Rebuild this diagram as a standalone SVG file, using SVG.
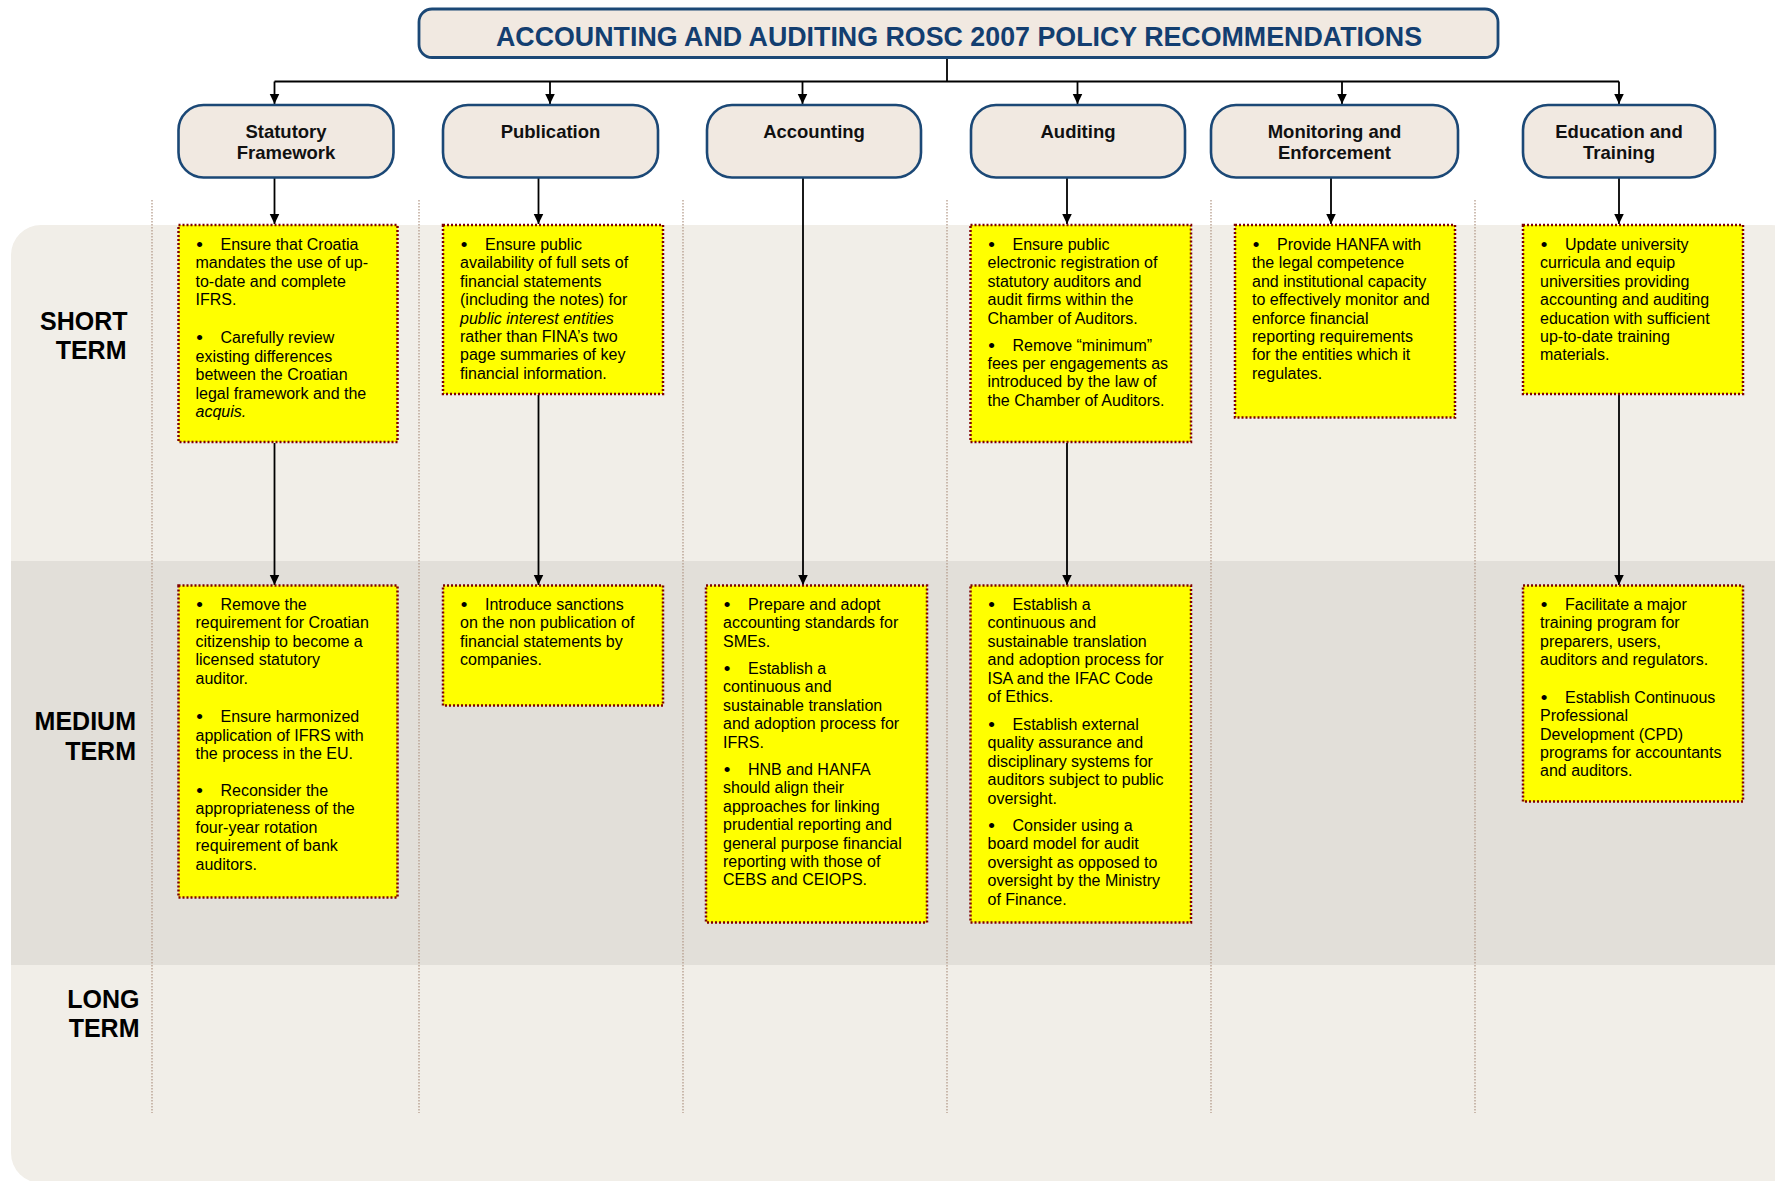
<svg xmlns="http://www.w3.org/2000/svg" width="1775" height="1181" viewBox="0 0 1775 1181">
<defs>
<marker id="ah" markerUnits="userSpaceOnUse" markerWidth="11" markerHeight="11" refX="10.5" refY="5.5" orient="auto">
<path d="M0,0.5 L10.5,5.5 L0,10.5 z" fill="#000"/>
</marker>
</defs>
<style>
.bg1{fill:#f1eee8}
.bg2{fill:#e2dfd9}
.sep{stroke:#b59c8c;stroke-width:1.3;stroke-dasharray:1.5 1.5;fill:none}
.cat{fill:#f1e9e1;stroke:#1b4876;stroke-width:2.6}
.cat-t{font-family:"Liberation Sans",Arial,sans-serif;font-weight:bold;font-size:18.5px;fill:#111;text-anchor:middle}
.title-b{fill:#f1e9e1;stroke:#1b4876;stroke-width:2.8}
.title-t{font-family:"Liberation Sans",Arial,sans-serif;font-weight:bold;font-size:26.8px;fill:#133e70;text-anchor:middle}
.box{fill:#ffff00;stroke:#7f0000;stroke-width:2.5;stroke-dasharray:2 2}
.t{font-family:"Liberation Sans",Arial,sans-serif;font-size:16px;fill:#000}
.bul{font-family:"Liberation Sans",Arial,sans-serif;font-size:19px;fill:#000;text-anchor:middle}
.term{font-family:"Liberation Sans",Arial,sans-serif;font-weight:bold;font-size:25px;fill:#000;text-anchor:end}
.ln{stroke:#000;stroke-width:1.8;fill:none}
.arr{stroke:#000;stroke-width:1.8;fill:none;marker-end:url(#ah)}
</style>

<g id="background">
<rect class="bg1" x="11" y="225" width="1790" height="958" rx="30"/>
<rect class="bg2" x="11" y="561" width="1790" height="404"/>
</g>

<g id="separators">
<line class="sep" x1="152" y1="200" x2="152" y2="1113"/>
<line class="sep" x1="419" y1="200" x2="419" y2="1113"/>
<line class="sep" x1="683" y1="200" x2="683" y2="1113"/>
<line class="sep" x1="947" y1="200" x2="947" y2="1113"/>
<line class="sep" x1="1211" y1="200" x2="1211" y2="1113"/>
<line class="sep" x1="1475" y1="200" x2="1475" y2="1113"/>
</g>

<g id="term-labels">
<text class="term" x="127.5" y="330">SHORT</text>
<text class="term" x="126.5" y="359">TERM</text>
<text class="term" x="136" y="730">MEDIUM</text>
<text class="term" x="136" y="760">TERM</text>
<text class="term" x="139.5" y="1008">LONG</text>
<text class="term" x="139.5" y="1037">TERM</text>
</g>

<g id="connectors">
<path class="ln" d="M947,58 V81.5"/>
<path class="ln" d="M274.5,81.5 H1619"/>
<path class="arr" d="M274.5,81.5 V104"/>
<path class="arr" d="M550,81.5 V104"/>
<path class="arr" d="M802.5,81.5 V104"/>
<path class="arr" d="M1077.5,81.5 V104"/>
<path class="arr" d="M1342,81.5 V104"/>
<path class="arr" d="M1619,81.5 V104"/>
<path class="arr" d="M274.5,178 V224"/>
<path class="arr" d="M274.5,443 V585"/>
<path class="arr" d="M538.5,178 V224"/>
<path class="arr" d="M538.5,395 V585"/>
<path class="arr" d="M803,178 V585"/>
<path class="arr" d="M1067,178 V224"/>
<path class="arr" d="M1067,443 V585"/>
<path class="arr" d="M1331,178 V224"/>
<path class="arr" d="M1619,178 V224"/>
<path class="arr" d="M1619,395 V585"/>
</g>

<g id="title">
<rect class="title-b" x="419" y="9" width="1079" height="48.5" rx="13"/>
<text class="title-t" x="959" y="45.5">ACCOUNTING AND AUDITING ROSC 2007 POLICY RECOMMENDATIONS</text>
</g>

<g id="cat-statutory">
<rect class="cat" x="178.5" y="105" width="215" height="72.5" rx="25"/>
<text class="cat-t" x="286" y="137.5">Statutory</text>
<text class="cat-t" x="286" y="158.5">Framework</text>
</g>
<g id="cat-publication">
<rect class="cat" x="443" y="105" width="215" height="72.5" rx="25"/>
<text class="cat-t" x="550.5" y="137.5">Publication</text>
</g>
<g id="cat-accounting">
<rect class="cat" x="707" y="105" width="214" height="72.5" rx="25"/>
<text class="cat-t" x="814" y="137.5">Accounting</text>
</g>
<g id="cat-auditing">
<rect class="cat" x="971" y="105" width="214" height="72.5" rx="25"/>
<text class="cat-t" x="1078" y="137.5">Auditing</text>
</g>
<g id="cat-monitoring">
<rect class="cat" x="1211" y="105" width="247" height="72.5" rx="25"/>
<text class="cat-t" x="1334.5" y="137.5">Monitoring and</text>
<text class="cat-t" x="1334.5" y="158.5">Enforcement</text>
</g>
<g id="cat-education">
<rect class="cat" x="1523" y="105" width="192" height="72.5" rx="25"/>
<text class="cat-t" x="1619" y="137.5">Education and</text>
<text class="cat-t" x="1619" y="158.5">Training</text>
</g>

<g id="short-statutory">
<rect class="box" x="178.5" y="225" width="219" height="217"/>
<text class="bul" x="199.5" y="251">•</text>
<text class="t"><tspan x="220.5" y="250">Ensure that Croatia</tspan><tspan x="195.5" dy="18.4">mandates the use of up-</tspan><tspan x="195.5" dy="18.4">to-date and complete</tspan><tspan x="195.5" dy="18.4">IFRS.</tspan></text>
<text class="bul" x="199.5" y="344.3">•</text>
<text class="t"><tspan x="220.5" y="343.3">Carefully review</tspan><tspan x="195.5" dy="18.4">existing differences</tspan><tspan x="195.5" dy="18.4">between the Croatian</tspan><tspan x="195.5" dy="18.4">legal framework and the</tspan><tspan x="195.5" dy="18.4" font-style="italic">acquis.</tspan></text>
</g>

<g id="short-publication">
<rect class="box" x="443" y="225" width="220" height="169"/>
<text class="bul" x="464" y="251">•</text>
<text class="t"><tspan x="485" y="250">Ensure public</tspan><tspan x="460" dy="18.4">availability of full sets of</tspan><tspan x="460" dy="18.4">financial statements</tspan><tspan x="460" dy="18.4">(including the notes) for</tspan><tspan x="460" dy="18.4" font-style="italic">public interest entities</tspan><tspan x="460" dy="18.4">rather than FINA’s two</tspan><tspan x="460" dy="18.4">page summaries of key</tspan><tspan x="460" dy="18.4">financial information.</tspan></text>
</g>

<g id="short-auditing">
<rect class="box" x="970.5" y="225" width="220.5" height="217"/>
<text class="bul" x="991.5" y="251">•</text>
<text class="t"><tspan x="1012.5" y="250">Ensure public</tspan><tspan x="987.5" dy="18.4">electronic registration of</tspan><tspan x="987.5" dy="18.4">statutory auditors and</tspan><tspan x="987.5" dy="18.4">audit firms within the</tspan><tspan x="987.5" dy="18.4">Chamber of Auditors.</tspan></text>
<text class="bul" x="991.5" y="351.5">•</text>
<text class="t"><tspan x="1012.5" y="350.5">Remove “minimum”</tspan><tspan x="987.5" dy="18.4">fees per engagements as</tspan><tspan x="987.5" dy="18.4">introduced by the law of</tspan><tspan x="987.5" dy="18.4">the Chamber of Auditors.</tspan></text>
</g>

<g id="short-monitoring">
<rect class="box" x="1235" y="225" width="220" height="192.5"/>
<text class="bul" x="1256" y="251">•</text>
<text class="t"><tspan x="1277" y="250">Provide HANFA with</tspan><tspan x="1252" dy="18.4">the legal competence</tspan><tspan x="1252" dy="18.4">and institutional capacity</tspan><tspan x="1252" dy="18.4">to effectively monitor and</tspan><tspan x="1252" dy="18.4">enforce financial</tspan><tspan x="1252" dy="18.4">reporting requirements</tspan><tspan x="1252" dy="18.4">for the entities which it</tspan><tspan x="1252" dy="18.4">regulates.</tspan></text>
</g>

<g id="short-education">
<rect class="box" x="1523" y="225" width="220" height="169"/>
<text class="bul" x="1544" y="251">•</text>
<text class="t"><tspan x="1565" y="250">Update university</tspan><tspan x="1540" dy="18.4">curricula and equip</tspan><tspan x="1540" dy="18.4">universities providing</tspan><tspan x="1540" dy="18.4">accounting and auditing</tspan><tspan x="1540" dy="18.4">education with sufficient</tspan><tspan x="1540" dy="18.4">up-to-date training</tspan><tspan x="1540" dy="18.4">materials.</tspan></text>
</g>

<g id="medium-statutory">
<rect class="box" x="178.5" y="585.5" width="219" height="312"/>
<text class="bul" x="199.5" y="611">•</text>
<text class="t"><tspan x="220.5" y="610">Remove the</tspan><tspan x="195.5" dy="18.4">requirement for Croatian</tspan><tspan x="195.5" dy="18.4">citizenship to become a</tspan><tspan x="195.5" dy="18.4">licensed statutory</tspan><tspan x="195.5" dy="18.4">auditor.</tspan></text>
<text class="bul" x="199.5" y="723.3">•</text>
<text class="t"><tspan x="220.5" y="722.3">Ensure harmonized</tspan><tspan x="195.5" dy="18.4">application of IFRS with</tspan><tspan x="195.5" dy="18.4">the process in the EU.</tspan></text>
<text class="bul" x="199.5" y="797">•</text>
<text class="t"><tspan x="220.5" y="796">Reconsider the</tspan><tspan x="195.5" dy="18.4">appropriateness of the</tspan><tspan x="195.5" dy="18.4">four-year rotation</tspan><tspan x="195.5" dy="18.4">requirement of bank</tspan><tspan x="195.5" dy="18.4">auditors.</tspan></text>
</g>

<g id="medium-publication">
<rect class="box" x="443" y="585.5" width="220" height="120"/>
<text class="bul" x="464" y="611">•</text>
<text class="t"><tspan x="485" y="610">Introduce sanctions</tspan><tspan x="460" dy="18.4">on the non publication of</tspan><tspan x="460" dy="18.4">financial statements by</tspan><tspan x="460" dy="18.4">companies.</tspan></text>
</g>

<g id="medium-accounting">
<rect class="box" x="706" y="585.5" width="221" height="337"/>
<text class="bul" x="727" y="611">•</text>
<text class="t"><tspan x="748" y="610">Prepare and adopt</tspan><tspan x="723" dy="18.4">accounting standards for</tspan><tspan x="723" dy="18.4">SMEs.</tspan></text>
<text class="bul" x="727" y="675">•</text>
<text class="t"><tspan x="748" y="674">Establish a</tspan><tspan x="723" dy="18.4">continuous and</tspan><tspan x="723" dy="18.4">sustainable translation</tspan><tspan x="723" dy="18.4">and adoption process for</tspan><tspan x="723" dy="18.4">IFRS.</tspan></text>
<text class="bul" x="727" y="776">•</text>
<text class="t"><tspan x="748" y="775">HNB and HANFA</tspan><tspan x="723" dy="18.4">should align their</tspan><tspan x="723" dy="18.4">approaches for linking</tspan><tspan x="723" dy="18.4">prudential reporting and</tspan><tspan x="723" dy="18.4">general purpose financial</tspan><tspan x="723" dy="18.4">reporting with those of</tspan><tspan x="723" dy="18.4">CEBS and CEIOPS.</tspan></text>
</g>

<g id="medium-auditing">
<rect class="box" x="970.5" y="585.5" width="220.5" height="337"/>
<text class="bul" x="991.5" y="611">•</text>
<text class="t"><tspan x="1012.5" y="610">Establish a</tspan><tspan x="987.5" dy="18.4">continuous and</tspan><tspan x="987.5" dy="18.4">sustainable translation</tspan><tspan x="987.5" dy="18.4">and adoption process for</tspan><tspan x="987.5" dy="18.4">ISA and the IFAC Code</tspan><tspan x="987.5" dy="18.4">of Ethics.</tspan></text>
<text class="bul" x="991.5" y="731">•</text>
<text class="t"><tspan x="1012.5" y="730">Establish external</tspan><tspan x="987.5" dy="18.4">quality assurance and</tspan><tspan x="987.5" dy="18.4">disciplinary systems for</tspan><tspan x="987.5" dy="18.4">auditors subject to public</tspan><tspan x="987.5" dy="18.4">oversight.</tspan></text>
<text class="bul" x="991.5" y="832">•</text>
<text class="t"><tspan x="1012.5" y="831">Consider using a</tspan><tspan x="987.5" dy="18.4">board model for audit</tspan><tspan x="987.5" dy="18.4">oversight as opposed to</tspan><tspan x="987.5" dy="18.4">oversight by the Ministry</tspan><tspan x="987.5" dy="18.4">of Finance.</tspan></text>
</g>

<g id="medium-education">
<rect class="box" x="1523" y="585.5" width="220" height="216"/>
<text class="bul" x="1544" y="611">•</text>
<text class="t"><tspan x="1565" y="610">Facilitate a major</tspan><tspan x="1540" dy="18.4">training program for</tspan><tspan x="1540" dy="18.4">preparers, users,</tspan><tspan x="1540" dy="18.4">auditors and regulators.</tspan></text>
<text class="bul" x="1544" y="703.7">•</text>
<text class="t"><tspan x="1565" y="702.7">Establish Continuous</tspan><tspan x="1540" dy="18.4">Professional</tspan><tspan x="1540" dy="18.4">Development (CPD)</tspan><tspan x="1540" dy="18.4">programs for accountants</tspan><tspan x="1540" dy="18.4">and auditors.</tspan></text>
</g>
</svg>
